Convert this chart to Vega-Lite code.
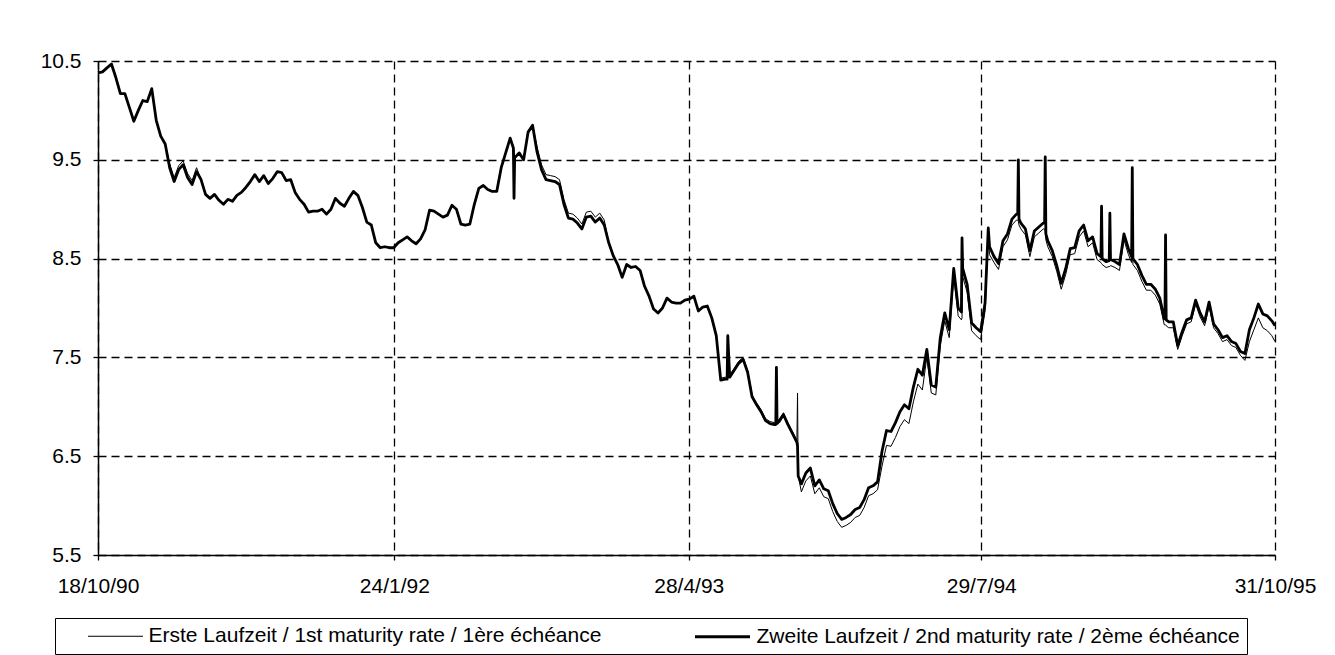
{
  "$schema": "https://vega.github.io/schema/vega-lite/v6.json",
  "width": 1177,
  "height": 494,
  "autosize": {"type": "none"},
  "padding": {"left": 98, "top": 61, "right": 60, "bottom": 100},
  "background": "white",
  "config": {"view": {"stroke": null}, "font": "Liberation Sans"},
  "data": {"values": [
    {"d":"1990-10-18","a":10.38,"b":10.38},{"d":"1990-10-25","a":10.39,"b":10.39},{"d":"1990-11-01","a":10.43,"b":10.43},{"d":"1990-11-08","a":10.47,"b":10.47},
    {"d":"1990-11-15","a":10.33,"b":10.33},{"d":"1990-11-22","a":10.17,"b":10.17},{"d":"1990-11-29","a":10.17,"b":10.17},{"d":"1990-12-06","a":10.03,"b":10.03},
    {"d":"1990-12-13","a":9.89,"b":9.89},{"d":"1990-12-20","a":10.0,"b":10.0},{"d":"1990-12-27","a":10.1,"b":10.1},{"d":"1991-01-03","a":10.09,"b":10.09},
    {"d":"1991-01-10","a":10.22,"b":10.22},{"d":"1991-01-17","a":9.9,"b":9.9},{"d":"1991-01-24","a":9.74,"b":9.74},{"d":"1991-01-31","a":9.66,"b":9.66},
    {"d":"1991-02-07","a":9.46,"b":9.42},{"d":"1991-02-14","a":9.32,"b":9.28},{"d":"1991-02-21","a":9.44,"b":9.4},{"d":"1991-02-28","a":9.49,"b":9.45},
    {"d":"1991-03-07","a":9.36,"b":9.32},{"d":"1991-03-14","a":9.29,"b":9.25},{"d":"1991-03-21","a":9.42,"b":9.38},{"d":"1991-03-28","a":9.3,"b":9.3},
    {"d":"1991-04-04","a":9.15,"b":9.15},{"d":"1991-04-11","a":9.11,"b":9.11},{"d":"1991-04-18","a":9.15,"b":9.15},{"d":"1991-04-25","a":9.09,"b":9.09},
    {"d":"1991-05-02","a":9.05,"b":9.05},{"d":"1991-05-09","a":9.1,"b":9.1},{"d":"1991-05-16","a":9.08,"b":9.08},{"d":"1991-05-23","a":9.14,"b":9.14},
    {"d":"1991-05-30","a":9.17,"b":9.17},{"d":"1991-06-06","a":9.22,"b":9.22},{"d":"1991-06-13","a":9.28,"b":9.28},{"d":"1991-06-20","a":9.35,"b":9.35},
    {"d":"1991-06-27","a":9.28,"b":9.28},{"d":"1991-07-04","a":9.34,"b":9.34},{"d":"1991-07-11","a":9.26,"b":9.26},{"d":"1991-07-18","a":9.31,"b":9.31},
    {"d":"1991-07-25","a":9.38,"b":9.38},{"d":"1991-08-01","a":9.37,"b":9.37},{"d":"1991-08-08","a":9.29,"b":9.29},{"d":"1991-08-15","a":9.3,"b":9.3},
    {"d":"1991-08-22","a":9.17,"b":9.17},{"d":"1991-08-29","a":9.1,"b":9.1},{"d":"1991-09-05","a":9.05,"b":9.05},{"d":"1991-09-12","a":8.97,"b":8.97},
    {"d":"1991-09-19","a":8.98,"b":8.98},{"d":"1991-09-26","a":8.98,"b":8.98},{"d":"1991-10-03","a":9.0,"b":9.0},{"d":"1991-10-10","a":8.95,"b":8.95},
    {"d":"1991-10-17","a":9.0,"b":9.0},{"d":"1991-10-24","a":9.11,"b":9.11},{"d":"1991-10-31","a":9.06,"b":9.06},{"d":"1991-11-07","a":9.03,"b":9.03},
    {"d":"1991-11-14","a":9.11,"b":9.11},{"d":"1991-11-21","a":9.18,"b":9.18},{"d":"1991-11-28","a":9.14,"b":9.14},{"d":"1991-12-05","a":9.02,"b":9.02},
    {"d":"1991-12-12","a":8.87,"b":8.87},{"d":"1991-12-19","a":8.84,"b":8.84},{"d":"1991-12-26","a":8.66,"b":8.66},{"d":"1992-01-02","a":8.61,"b":8.61},
    {"d":"1992-01-09","a":8.62,"b":8.62},{"d":"1992-01-16","a":8.61,"b":8.61},{"d":"1992-01-23","a":8.61,"b":8.61},{"d":"1992-01-30","a":8.66,"b":8.66},
    {"d":"1992-02-06","a":8.69,"b":8.69},{"d":"1992-02-13","a":8.72,"b":8.72},{"d":"1992-02-20","a":8.68,"b":8.68},{"d":"1992-02-27","a":8.65,"b":8.65},
    {"d":"1992-03-05","a":8.7,"b":8.7},{"d":"1992-03-12","a":8.79,"b":8.79},{"d":"1992-03-19","a":8.99,"b":8.99},{"d":"1992-03-26","a":8.98,"b":8.98},
    {"d":"1992-04-02","a":8.95,"b":8.95},{"d":"1992-04-09","a":8.92,"b":8.92},{"d":"1992-04-16","a":8.94,"b":8.94},{"d":"1992-04-23","a":9.04,"b":9.04},
    {"d":"1992-04-30","a":9.0,"b":9.0},{"d":"1992-05-07","a":8.85,"b":8.85},{"d":"1992-05-14","a":8.84,"b":8.84},{"d":"1992-05-21","a":8.85,"b":8.85},
    {"d":"1992-05-28","a":9.05,"b":9.05},{"d":"1992-06-04","a":9.21,"b":9.21},{"d":"1992-06-11","a":9.24,"b":9.24},{"d":"1992-06-18","a":9.2,"b":9.2},
    {"d":"1992-06-25","a":9.18,"b":9.18},{"d":"1992-07-02","a":9.18,"b":9.18},{"d":"1992-07-09","a":9.42,"b":9.42},{"d":"1992-07-16","a":9.57,"b":9.57},
    {"d":"1992-07-23","a":9.72,"b":9.72},{"d":"1992-07-28","a":9.62,"b":9.62},{"d":"1992-07-29","a":9.6,"b":9.11},{"d":"1992-07-30","a":9.52,"b":9.52},
    {"d":"1992-08-06","a":9.57,"b":9.57},{"d":"1992-08-13","a":9.5,"b":9.5},{"d":"1992-08-20","a":9.78,"b":9.78},{"d":"1992-08-27","a":9.85,"b":9.85},
    {"d":"1992-09-03","a":9.63,"b":9.58},{"d":"1992-09-10","a":9.45,"b":9.4},{"d":"1992-09-17","a":9.35,"b":9.3},{"d":"1992-09-24","a":9.34,"b":9.29},
    {"d":"1992-10-01","a":9.33,"b":9.28},{"d":"1992-10-08","a":9.3,"b":9.25},{"d":"1992-10-15","a":9.1,"b":9.05},{"d":"1992-10-22","a":8.96,"b":8.91},
    {"d":"1992-10-29","a":8.95,"b":8.9},{"d":"1992-11-05","a":8.91,"b":8.86},{"d":"1992-11-12","a":8.85,"b":8.8},{"d":"1992-11-19","a":8.97,"b":8.92},
    {"d":"1992-11-26","a":8.98,"b":8.93},{"d":"1992-12-03","a":8.92,"b":8.87},{"d":"1992-12-10","a":8.96,"b":8.91},{"d":"1992-12-17","a":8.89,"b":8.84},
    {"d":"1992-12-24","a":8.66,"b":8.66},{"d":"1992-12-31","a":8.53,"b":8.53},{"d":"1993-01-07","a":8.44,"b":8.44},{"d":"1993-01-14","a":8.31,"b":8.31},
    {"d":"1993-01-21","a":8.44,"b":8.44},{"d":"1993-01-28","a":8.41,"b":8.41},{"d":"1993-02-04","a":8.42,"b":8.42},{"d":"1993-02-11","a":8.38,"b":8.38},
    {"d":"1993-02-18","a":8.22,"b":8.22},{"d":"1993-02-25","a":8.12,"b":8.12},{"d":"1993-03-04","a":7.99,"b":7.99},{"d":"1993-03-11","a":7.95,"b":7.95},
    {"d":"1993-03-18","a":8.0,"b":8.0},{"d":"1993-03-25","a":8.1,"b":8.1},{"d":"1993-04-01","a":8.06,"b":8.06},{"d":"1993-04-08","a":8.05,"b":8.05},
    {"d":"1993-04-15","a":8.05,"b":8.05},{"d":"1993-04-22","a":8.08,"b":8.08},{"d":"1993-04-29","a":8.09,"b":8.09},{"d":"1993-05-06","a":8.12,"b":8.12},
    {"d":"1993-05-13","a":7.97,"b":7.97},{"d":"1993-05-20","a":8.01,"b":8.01},{"d":"1993-05-27","a":8.02,"b":8.02},{"d":"1993-06-03","a":7.9,"b":7.9},
    {"d":"1993-06-10","a":7.72,"b":7.72},{"d":"1993-06-17","a":7.29,"b":7.27},{"d":"1993-06-24","a":7.3,"b":7.28},{"d":"1993-06-27","a":7.3,"b":7.28},
    {"d":"1993-06-28","a":7.3,"b":7.72},{"d":"1993-07-01","a":7.32,"b":7.3},{"d":"1993-07-08","a":7.39,"b":7.37},{"d":"1993-07-15","a":7.46,"b":7.44},
    {"d":"1993-07-22","a":7.5,"b":7.48},{"d":"1993-07-29","a":7.37,"b":7.35},{"d":"1993-08-05","a":7.12,"b":7.1},{"d":"1993-08-12","a":7.04,"b":7.02},
    {"d":"1993-08-19","a":6.97,"b":6.95},{"d":"1993-08-26","a":6.88,"b":6.86},{"d":"1993-09-02","a":6.85,"b":6.83},{"d":"1993-09-09","a":6.84,"b":6.82},
    {"d":"1993-09-11","a":6.84,"b":6.82},{"d":"1993-09-12","a":6.84,"b":7.4},{"d":"1993-09-13","a":6.85,"b":6.83},{"d":"1993-09-16","a":6.87,"b":6.85},
    {"d":"1993-09-23","a":6.94,"b":6.92},{"d":"1993-09-30","a":6.84,"b":6.82},{"d":"1993-10-07","a":6.75,"b":6.73},{"d":"1993-10-14","a":6.66,"b":6.64},
    {"d":"1993-10-15","a":7.14,"b":6.6},{"d":"1993-10-16","a":6.3,"b":6.3},{"d":"1993-10-21","a":6.14,"b":6.22},{"d":"1993-10-28","a":6.25,"b":6.33},
    {"d":"1993-11-04","a":6.3,"b":6.38},{"d":"1993-11-11","a":6.12,"b":6.2},{"d":"1993-11-18","a":6.18,"b":6.26},{"d":"1993-11-25","a":6.09,"b":6.17},
    {"d":"1993-12-02","a":6.07,"b":6.15},{"d":"1993-12-09","a":5.94,"b":6.02},{"d":"1993-12-16","a":5.84,"b":5.92},{"d":"1993-12-23","a":5.78,"b":5.86},
    {"d":"1993-12-30","a":5.8,"b":5.88},{"d":"1994-01-06","a":5.83,"b":5.91},{"d":"1994-01-13","a":5.88,"b":5.96},{"d":"1994-01-20","a":5.9,"b":5.98},
    {"d":"1994-01-27","a":5.98,"b":6.06},{"d":"1994-02-03","a":6.1,"b":6.18},{"d":"1994-02-10","a":6.12,"b":6.2},{"d":"1994-02-17","a":6.16,"b":6.24},
    {"d":"1994-02-24","a":6.4,"b":6.55},{"d":"1994-03-03","a":6.61,"b":6.76},{"d":"1994-03-10","a":6.6,"b":6.75},{"d":"1994-03-17","a":6.69,"b":6.84},
    {"d":"1994-03-24","a":6.8,"b":6.95},{"d":"1994-03-31","a":6.87,"b":7.02},{"d":"1994-04-07","a":6.83,"b":6.98},{"d":"1994-04-14","a":7.05,"b":7.2},
    {"d":"1994-04-21","a":7.23,"b":7.38},{"d":"1994-04-28","a":7.17,"b":7.32},{"d":"1994-05-05","a":7.5,"b":7.58},{"d":"1994-05-12","a":7.14,"b":7.22},
    {"d":"1994-05-19","a":7.12,"b":7.2},{"d":"1994-05-26","a":7.62,"b":7.7},{"d":"1994-06-02","a":7.87,"b":7.95},{"d":"1994-06-09","a":7.7,"b":7.78},
    {"d":"1994-06-16","a":8.32,"b":8.4},{"d":"1994-06-23","a":7.92,"b":8.0},{"d":"1994-06-28","a":7.88,"b":7.96},{"d":"1994-06-29","a":7.9,"b":8.71},
    {"d":"1994-06-30","a":8.32,"b":8.4},{"d":"1994-07-07","a":8.16,"b":8.24},{"d":"1994-07-14","a":7.77,"b":7.85},{"d":"1994-07-21","a":7.72,"b":7.8},
    {"d":"1994-07-28","a":7.68,"b":7.76},{"d":"1994-08-04","a":7.97,"b":8.05},{"d":"1994-08-09","a":8.72,"b":8.81},{"d":"1994-08-11","a":8.54,"b":8.62},
    {"d":"1994-08-18","a":8.46,"b":8.52},{"d":"1994-08-25","a":8.39,"b":8.45},{"d":"1994-09-01","a":8.62,"b":8.68},{"d":"1994-09-08","a":8.69,"b":8.75},
    {"d":"1994-09-15","a":8.84,"b":8.9},{"d":"1994-09-22","a":8.89,"b":8.95},{"d":"1994-09-24","a":8.89,"b":8.95},{"d":"1994-09-25","a":8.88,"b":9.5},
    {"d":"1994-09-26","a":8.84,"b":8.9},{"d":"1994-09-29","a":8.8,"b":8.86},{"d":"1994-10-06","a":8.74,"b":8.8},{"d":"1994-10-13","a":8.52,"b":8.58},
    {"d":"1994-10-20","a":8.72,"b":8.78},{"d":"1994-10-27","a":8.76,"b":8.82},{"d":"1994-11-03","a":8.8,"b":8.86},{"d":"1994-11-05","a":8.8,"b":8.86},
    {"d":"1994-11-06","a":8.78,"b":9.53},{"d":"1994-11-07","a":8.69,"b":8.75},{"d":"1994-11-10","a":8.62,"b":8.68},{"d":"1994-11-17","a":8.52,"b":8.58},
    {"d":"1994-11-24","a":8.37,"b":8.43},{"d":"1994-12-01","a":8.19,"b":8.25},{"d":"1994-12-08","a":8.34,"b":8.4},{"d":"1994-12-15","a":8.54,"b":8.6},
    {"d":"1994-12-22","a":8.55,"b":8.61},{"d":"1994-12-29","a":8.72,"b":8.78},{"d":"1995-01-05","a":8.78,"b":8.84},{"d":"1995-01-12","a":8.62,"b":8.68},
    {"d":"1995-01-19","a":8.66,"b":8.72},{"d":"1995-01-26","a":8.49,"b":8.55},{"d":"1995-02-01","a":8.46,"b":8.52},{"d":"1995-02-02","a":8.45,"b":9.03},
    {"d":"1995-02-03","a":8.44,"b":8.5},{"d":"1995-02-09","a":8.41,"b":8.47},{"d":"1995-02-14","a":8.42,"b":8.48},{"d":"1995-02-15","a":8.42,"b":8.96},
    {"d":"1995-02-16","a":8.43,"b":8.49},{"d":"1995-02-23","a":8.41,"b":8.47},{"d":"1995-03-02","a":8.38,"b":8.44},{"d":"1995-03-09","a":8.69,"b":8.75},
    {"d":"1995-03-16","a":8.54,"b":8.6},{"d":"1995-03-21","a":8.46,"b":8.52},{"d":"1995-03-22","a":9.4,"b":9.42},{"d":"1995-03-23","a":8.44,"b":8.5},
    {"d":"1995-03-30","a":8.38,"b":8.44},{"d":"1995-04-06","a":8.27,"b":8.33},{"d":"1995-04-13","a":8.18,"b":8.24},{"d":"1995-04-20","a":8.18,"b":8.24},
    {"d":"1995-04-27","a":8.13,"b":8.19},{"d":"1995-05-04","a":8.04,"b":8.1},{"d":"1995-05-11","a":7.83,"b":7.89},{"d":"1995-05-12","a":7.83,"b":7.89},
    {"d":"1995-05-13","a":7.83,"b":8.74},{"d":"1995-05-14","a":7.82,"b":7.88},{"d":"1995-05-18","a":7.8,"b":7.86},{"d":"1995-05-25","a":7.8,"b":7.86},
    {"d":"1995-06-01","a":7.58,"b":7.62},{"d":"1995-06-08","a":7.72,"b":7.76},{"d":"1995-06-15","a":7.84,"b":7.88},{"d":"1995-06-22","a":7.86,"b":7.9},
    {"d":"1995-06-29","a":8.04,"b":8.08},{"d":"1995-07-06","a":7.91,"b":7.95},{"d":"1995-07-13","a":7.82,"b":7.86},{"d":"1995-07-20","a":8.02,"b":8.06},
    {"d":"1995-07-27","a":7.8,"b":7.84},{"d":"1995-08-03","a":7.74,"b":7.78},{"d":"1995-08-10","a":7.66,"b":7.7},{"d":"1995-08-17","a":7.68,"b":7.72},
    {"d":"1995-08-24","a":7.62,"b":7.66},{"d":"1995-08-31","a":7.6,"b":7.64},{"d":"1995-09-07","a":7.52,"b":7.56},{"d":"1995-09-14","a":7.47,"b":7.54},
    {"d":"1995-09-21","a":7.66,"b":7.78},{"d":"1995-09-28","a":7.78,"b":7.9},{"d":"1995-10-05","a":7.9,"b":8.04},{"d":"1995-10-12","a":7.8,"b":7.94},
    {"d":"1995-10-19","a":7.77,"b":7.92},{"d":"1995-10-26","a":7.72,"b":7.87},{"d":"1995-10-31","a":7.66,"b":7.82}
  ]},
  "transform": [{"fold": ["a", "b"], "as": ["s", "v"]}],
  "mark": {"type": "line", "color": "black", "strokeJoin": "round"},
  "encoding": {
    "x": {
      "field": "d", "type": "temporal",
      "scale": {"type": "utc", "domain": [{"year": 1990, "month": 10, "date": 18, "utc": true}, {"year": 1995, "month": 10, "date": 31, "utc": true}]},
      "axis": {
        "title": null,
        "values": [
          {"year": 1990, "month": 10, "date": 18, "utc": true},
          {"year": 1992, "month": 1, "date": 24, "utc": true},
          {"year": 1993, "month": 4, "date": 28, "utc": true},
          {"year": 1994, "month": 7, "date": 29, "utc": true},
          {"year": 1995, "month": 10, "date": 31, "utc": true}
        ],
        "format": "%-d/%-m/%y",
        "labelFlush": false, "labelOverlap": false,
        "grid": true, "gridColor": "black", "gridDash": [8, 5], "gridWidth": 1.3,
        "domainColor": "black", "domainWidth": 1.5,
        "tickColor": "black", "tickSize": 5, "tickWidth": 1.3,
        "labelFont": "Liberation Sans", "labelFontSize": 21, "labelColor": "black", "labelPadding": 15
      }
    },
    "y": {
      "field": "v", "type": "quantitative",
      "scale": {"domain": [5.5, 10.5], "zero": false, "nice": false},
      "axis": {
        "title": null,
        "values": [5.5, 6.5, 7.5, 8.5, 9.5, 10.5],
        "format": ".1f",
        "grid": true, "gridColor": "black", "gridDash": [8, 5], "gridWidth": 1.3,
        "domainColor": "black", "domainWidth": 1.5,
        "tickColor": "black", "tickSize": 5, "tickWidth": 1.3,
        "labelFont": "Liberation Sans", "labelFontSize": 21, "labelColor": "black", "labelPadding": 12
      }
    },
    "strokeWidth": {
      "field": "s", "type": "nominal",
      "scale": {"type": "ordinal", "domain": ["a", "b"], "range": [1, 2.8]},
      "legend": {
        "orient": "none", "legendX": -43, "legendY": 557, "direction": "horizontal",
        "title": " ", "titleOrient": "left", "titlePadding": 43, "titleFontSize": 21,
        "symbolType": "M-2.75,0H2.75", "symbolSize": 400, "symbolStrokeColor": "black", "symbolFillColor": "transparent",
        "labelFont": "Liberation Sans", "labelFontSize": 21, "labelColor": "black", "labelLimit": 0, "labelOffset": 22.5,
        "columnPadding": 87, "padding": 7, "strokeColor": "black", "fillColor": "white",
        "labelExpr": "datum.value == 'a' ? 'Erste Laufzeit / 1st maturity rate / 1ère échéance' : 'Zweite Laufzeit / 2nd maturity rate / 2ème échéance'"
      }
    }
  }
}
